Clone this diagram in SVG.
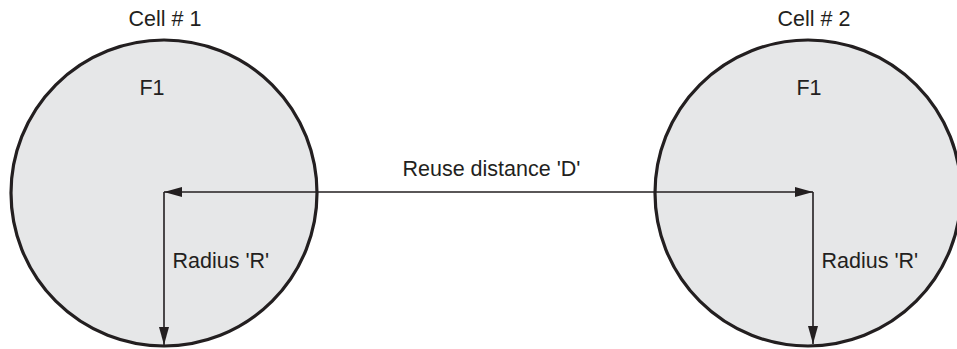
<svg xmlns="http://www.w3.org/2000/svg" width="957" height="349" viewBox="0 0 957 349">
<style>
.cell{fill:#e6e7e8;stroke:#231f20;stroke-width:3.2}
.lbl{font-family:"Liberation Sans",Arial,sans-serif;font-size:21.5px;fill:#231f20}
.conn{stroke:#231f20;stroke-width:1.6;fill:none}
</style>
<defs>
<marker id="ah" viewBox="0 0 18 10" refX="18" refY="5" markerWidth="18" markerHeight="10" markerUnits="userSpaceOnUse" orient="auto-start-reverse">
<path d="M0,0 L18,5 L0,10 Z" fill="#231f20"/>
</marker>
</defs>
<rect width="957" height="349" fill="#ffffff"/>
<g id="cell1">
<circle class="cell" cx="164" cy="193" r="153"/>
<text class="lbl" x="165" y="26" text-anchor="middle">Cell # 1</text>
<text class="lbl" x="152" y="95" text-anchor="middle">F1</text>
</g>
<g id="cell2">
<circle class="cell" cx="808" cy="193" r="153"/>
<text class="lbl" x="814" y="26" text-anchor="middle">Cell # 2</text>
<text class="lbl" x="809" y="95" text-anchor="middle">F1</text>
</g>
<g id="connectors">
<line class="conn" x1="164" y1="192" x2="813" y2="192" marker-start="url(#ah)" marker-end="url(#ah)"/>
<line class="conn" x1="164" y1="192" x2="164" y2="345" marker-end="url(#ah)"/>
<line class="conn" x1="813" y1="192" x2="813" y2="344" marker-end="url(#ah)"/>
<text class="lbl" x="402.5" y="176">Reuse distance 'D'</text>
<text class="lbl" x="172.5" y="268">Radius 'R'</text>
<text class="lbl" x="821.5" y="268">Radius 'R'</text>
</g>
</svg>
